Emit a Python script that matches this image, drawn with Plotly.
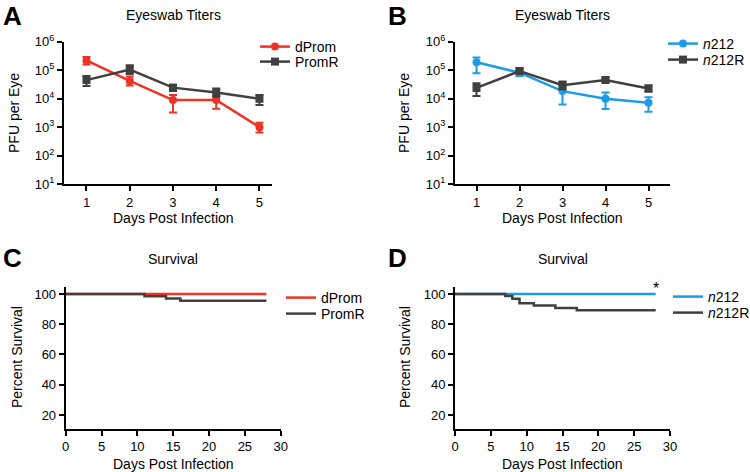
import plotly.graph_objects as go

# Eyeswab titers (PFU per eye), panels A and B
days = [1, 2, 3, 4, 5]
dprom_titer = [2.2e5, 4.2e4, 9.0e3, 9.0e3, 1.0e3]
dprom_hi = [2.9e5, 6.0e4, 1.35e4, 1.25e4, 1.45e3]
dprom_lo = [1.6e5, 2.9e4, 3.3e3, 4.5e3, 6.5e2]
promr_titer = [4.5e4, 1.05e5, 2.45e4, 1.65e4, 1.0e4]
promr_hi = [6.3e4, 1.48e5, 3.1e4, 2.3e4, 1.35e4]
promr_lo = [2.8e4, 7.4e4, 1.86e4, 1.17e4, 6.0e3]

n212_titer = [1.9e5, 8.2e4, 1.85e4, 1.0e4, 7.2e3]
n212_hi = [2.8e5, 1.0e5, 2.8e4, 1.65e4, 1.12e4]
n212_lo = [7.8e4, 6.3e4, 6.3e3, 4.4e3, 3.5e3]
n212r_titer = [2.4e4, 9.3e4, 3.0e4, 4.5e4, 2.3e4]
n212r_hi = [3.5e4, 1.17e5, 4.0e4, 5.5e4, 2.9e4]
n212r_lo = [1.26e4, 7.4e4, 2.1e4, 3.8e4, 1.78e4]

# Survival (percent), panels C and D
c_dprom_t = [0, 28]
c_dprom_s = [100, 100]
c_promr_t = [0, 11, 14, 16, 28]
c_promr_s = [100, 98.5, 97.0, 95.5, 95.5]
d_n212_t = [0, 28]
d_n212_s = [100, 100]
d_n212r_t = [0, 7, 8, 9, 11, 14, 17, 28]
d_n212r_s = [100, 98.6, 96.9, 93.8, 92.3, 90.7, 89.2, 89.2]

log_ticks = [10, 100, 1e3, 1e4, 1e5, 1e6]
log_text = ["10<sup>%d</sup>" % i for i in range(1, 7)]

RED = "#ee3224"
BLUE = "#1c9be8"
GRAY = "#404040"
FONT = "Liberation Sans, Arial, sans-serif"


def err(hi, mid, lo, color):
    return dict(type="data", symmetric=False,
                array=[h - m for h, m in zip(hi, mid)],
                arrayminus=[m - l for m, l in zip(mid, lo)],
                color=color, thickness=2, width=4)


fig = go.Figure()


def titer(x, y, hi, lo, name, color, symbol, xa, ya, legend):
    fig.add_scatter(x=x, y=y, error_y=err(hi, y, lo, color), mode="lines+markers",
                    name=name, line=dict(color=color, width=2.5),
                    marker=dict(color=color, symbol=symbol, size=8),
                    xaxis=xa, yaxis=ya, legend=legend, showlegend=True)


def surv(t, s, name, color, xa, ya, legend):
    fig.add_scatter(x=t, y=s, mode="lines", line_shape="hv", name=name,
                    line=dict(color=color, width=2.5),
                    xaxis=xa, yaxis=ya, legend=legend, showlegend=True)


# gray drawn after the coloured series so it sits on top, as in the reference
titer(days, dprom_titer, dprom_hi, dprom_lo, "dProm", RED, "circle", "x", "y", "legend")
titer(days, promr_titer, promr_hi, promr_lo, "PromR", GRAY, "square", "x", "y", "legend2")
titer(days, n212_titer, n212_hi, n212_lo, "<i>n</i>212", BLUE, "circle", "x2", "y2", "legend3")
titer(days, n212r_titer, n212r_hi, n212r_lo, "<i>n</i>212R", GRAY, "square", "x2", "y2", "legend4")
surv(c_dprom_t, c_dprom_s, "dProm", RED, "x3", "y3", "legend5")
surv(c_promr_t, c_promr_s, "PromR", GRAY, "x3", "y3", "legend6")
surv(d_n212_t, d_n212_s, "<i>n</i>212", BLUE, "x4", "y4", "legend7")
surv(d_n212r_t, d_n212r_s, "<i>n</i>212R", GRAY, "x4", "y4", "legend8")

axis_style = dict(showgrid=False, zeroline=False, showline=True, linecolor="black",
                  linewidth=2, ticks="outside", ticklen=5, tickwidth=2,
                  tickcolor="black", tickfont=dict(size=13, color="black"))

top = [1 - 184.3 / 472, 1 - 41.7 / 472]
bot = [1 - 428.7 / 472, 1 - 286.7 / 472]
left_a = [64 / 750, 272 / 750]
right_a = [455 / 750, 670 / 750]
left_c = [65.7 / 750, 280.7 / 750]
right_c = [455 / 750, 670 / 750]

fig.update_layout(
    xaxis=dict(domain=left_a, range=[0.48, 5.29], tickvals=days, anchor="y", **axis_style),
    yaxis=dict(domain=top, type="log", range=[1, 6], tickvals=log_ticks,
               ticktext=log_text, anchor="x", **axis_style),
    xaxis2=dict(domain=right_a, range=[0.5, 5.5], tickvals=days, anchor="y2", **axis_style),
    yaxis2=dict(domain=top, type="log", range=[1, 6], tickvals=log_ticks,
                ticktext=log_text, anchor="x2", **axis_style),
    xaxis3=dict(domain=left_c, range=[0, 30], dtick=5, anchor="y3", **axis_style),
    yaxis3=dict(domain=bot, range=[10.9, 104.8], tickvals=[20, 40, 60, 80, 100],
                anchor="x3", **axis_style),
    xaxis4=dict(domain=right_c, range=[0, 30], dtick=5, anchor="y4", **axis_style),
    yaxis4=dict(domain=bot, range=[10.9, 104.8], tickvals=[20, 40, 60, 80, 100],
                anchor="x4", **axis_style),
)

leg = dict(bgcolor="rgba(0,0,0,0)", font=dict(size=14, color="black"),
           itemwidth=30, xanchor="left", yanchor="middle")
# one legend per entry so each label can be placed where the reference has it
leg_pos = {"legend": (255, 47), "legend2": (255, 62),
           "legend3": (663, 44), "legend4": (663, 60),
           "legend5": (281, 298), "legend6": (281, 314),
           "legend7": (668, 297), "legend8": (668, 313)}
fig.update_layout(**{k: dict(x=px / 750, y=1 - py / 472, **leg)
                     for k, (px, py) in leg_pos.items()})

ann = []


def text(x, y, s, size=14, bold=False, angle=0):
    ann.append(dict(x=x / 750, y=1 - y / 472, xref="paper", yref="paper", text=s,
                    showarrow=False, textangle=angle, xanchor="center", yanchor="middle",
                    font=dict(size=size, color="black",
                              weight="bold" if bold else "normal")))


text(12, 16, "A", 26, True)
text(397, 16, "B", 26, True)
text(12, 258, "C", 26, True)
text(397, 258, "D", 26, True)
text(173, 15, "Eyeswab Titers")
text(562, 15, "Eyeswab Titers")
text(173, 259, "Survival")
text(563, 259, "Survival")
text(173, 218, "Days Post Infection")
text(562, 218, "Days Post Infection")
text(173, 464, "Days Post Infection")
text(562, 464, "Days Post Infection")
text(14, 113, "PFU per Eye", angle=-90)
text(404, 113, "PFU per Eye", angle=-90)
text(17, 357, "Percent Survival", angle=-90)
text(405, 357, "Percent Survival", angle=-90)
ann.append(dict(x=28, y=1.06, xref="x4", yref="y4 domain", text="*", showarrow=False,
                font=dict(size=16, color="black")))

fig.update_layout(
    annotations=ann, showlegend=True,
    width=750, height=472,
    margin=dict(l=0, r=0, t=0, b=0, autoexpand=False),
    paper_bgcolor="white", plot_bgcolor="white",
    font=dict(family=FONT, color="black"),
)

# the page's default body margin would shift the figure by 8px
fig.write_html("out.html", config={"displayModeBar": False},
               post_script="document.body.style.margin='0';")
